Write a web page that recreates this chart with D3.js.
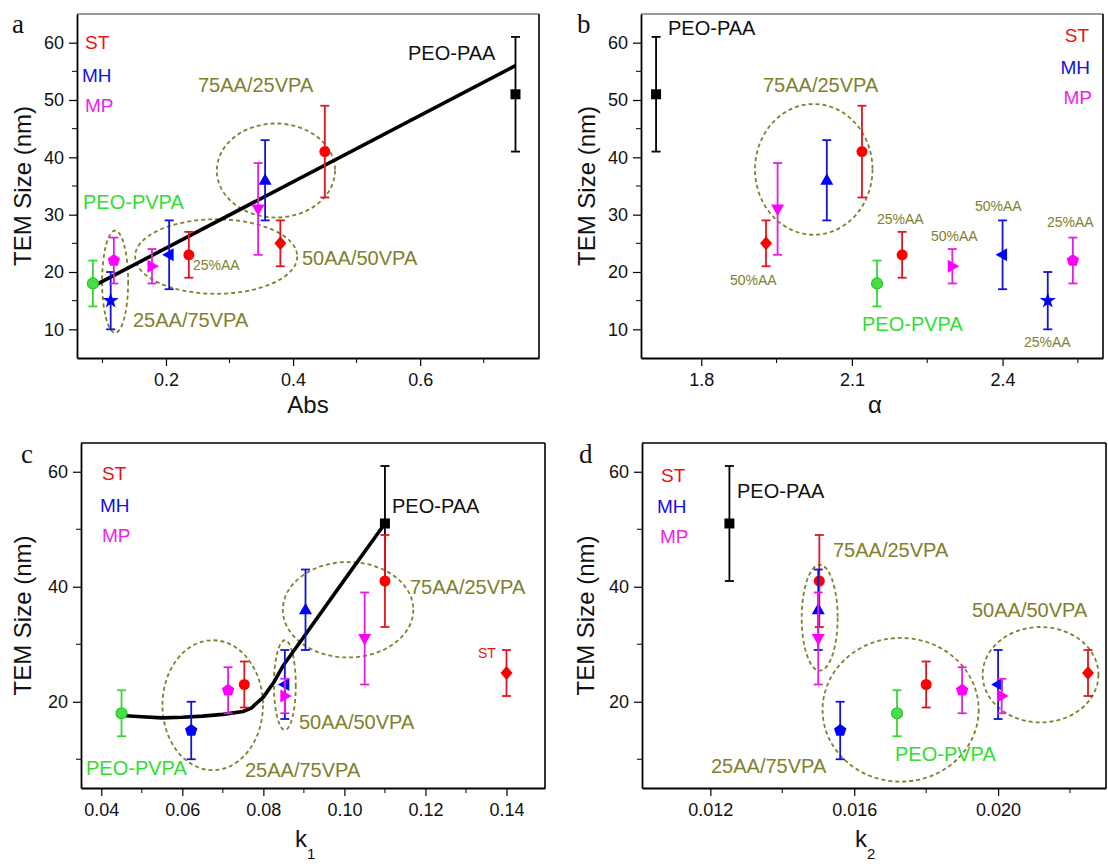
<!DOCTYPE html>
<html>
<head>
<meta charset="utf-8">
<script src="https://cdn.jsdelivr.net/npm/d3@7"></script>
<style>
  body { margin: 0; background: #fff; }
  svg { display: block; font-family: Arial, "Liberation Sans", sans-serif; }
</style>
</head>
<body>
<svg id="chart" width="1108" height="866"></svg>
<script>
// samples (same TEM size in every panel, only the x quantity changes)
var samples = ['PEO-PAA', 'PEO-PVPA', 'ST-75AA', 'MH-75AA', 'MP-75AA', 'ST-50AA', 'MH-50AA', 'MP-50AA', 'ST-25AA', 'MH-25AA', 'MP-25AA'];
var groups  = ['PEO-PAA', 'PEO-PVPA', 'ST', 'MH', 'MP', 'ST', 'MH', 'MP', 'ST', 'MH', 'MP'];
var temSize = [51, 18, 41, 36, 31, 25, 23, 21, 23, 15, 22];
var temErr  = [10, 4, 8, 7, 8, 4, 6, 3, 4, 5, 4];

// x values read for each panel
var absX   = [0.75, 0.085, 0.45, 0.356, 0.345, 0.38, 0.205, 0.178, 0.236, 0.113, 0.118];
var alphaX = [1.71, 2.15, 2.12, 2.05, 1.952, 1.929, 2.40, 2.30, 2.20, 2.49, 2.54];
var k1X    = [0.11, 0.045, 0.11, 0.0904, 0.105, 0.14, 0.0853, 0.0853, 0.0753, 0.0622, 0.0713];
var k2X    = [0.01253, 0.01719, 0.01503, 0.015, 0.015, 0.0225, 0.0200, 0.0201, 0.018, 0.01561, 0.0190];

// trend lines
var fitAbsX = [0.085, 0.75];
var fitAbsY = [17.5, 56];
var k1CurveX = [0.045, 0.05, 0.055, 0.06, 0.065, 0.07, 0.075, 0.077, 0.08, 0.0825, 0.085, 0.09, 0.1, 0.11];
var k1CurveY = [17.6, 17.4, 17.2, 17.3, 17.5, 17.8, 18.3, 18.9, 20.8, 23.3, 26.4, 31.3, 41.2, 51];

// ticks
var yMajorAB = [10, 20, 30, 40, 50, 60], yMinorAB = [15, 25, 35, 45, 55];
var yMajorCD = [20, 40, 60], yMinorCD = [10, 30, 50];
var absTicks = [0.2, 0.4, 0.6], absMinor = [0.1, 0.3, 0.5, 0.7];
var alphaTicks = [1.8, 2.1, 2.4], alphaMinor = [1.95, 2.25, 2.55];
var k1Ticks = [0.04, 0.06, 0.08, 0.10, 0.12, 0.14], k1Minor = [0.05, 0.07, 0.09, 0.11, 0.13];
var k2Ticks = [0.012, 0.016, 0.020], k2Minor = [0.014, 0.018, 0.022];

// styles
var fillCol = { 'PEO-PAA': '#000', 'PEO-PVPA': '#46e046', 'ST': '#ff0000', 'MH': '#0000ff', 'MP': '#ff00ff' };
var barCol  = { 'PEO-PAA': '#000', 'PEO-PVPA': '#35d835', 'ST': '#e0161c', 'MH': '#1414d8', 'MP': '#e21ee2' };
var shapeOf = { 'PEO-PAA': 'square', 'PEO-PVPA': 'circle', 'ST-75AA': 'circle', 'MH-75AA': 'triUp', 'MP-75AA': 'triDown',
                'ST-50AA': 'diamond', 'MH-50AA': 'triLeft', 'MP-50AA': 'triRight', 'ST-25AA': 'circle', 'MH-25AA': 'star', 'MP-25AA': 'pentagon' };
var olive = '#80802e', green = '#33dd33';

var svg = d3.select('#chart');

function poly(pts) { return 'M' + pts.map(function(p) { return p[0].toFixed(2) + ',' + p[1].toFixed(2); }).join('L') + 'Z'; }
function markerPath(shape) {
  switch (shape) {
    case 'square': return poly([[-5, -5], [5, -5], [5, 5], [-5, 5]]);
    case 'diamond': return poly([[0, -7], [6, 0], [0, 7], [-6, 0]]);
    case 'triUp': return poly([[0, -7], [6.5, 4.5], [-6.5, 4.5]]);
    case 'triDown': return poly([[0, 7], [6.5, -4.5], [-6.5, -4.5]]);
    case 'triLeft': return poly([[-7, 0], [4.5, -6.5], [4.5, 6.5]]);
    case 'triRight': return poly([[7, 0], [-4.5, -6.5], [-4.5, 6.5]]);
    case 'star': return d3.symbol(d3.symbolStar, 80)();
    case 'pentagon': return poly(d3.range(5).map(function(i) { var a = -Math.PI / 2 + i * 2 * Math.PI / 5; return [6.5 * Math.cos(a), 6.5 * Math.sin(a)]; }));
  }
  return d3.symbol(d3.symbolCircle, 95)();
}

function drawPanel(p) {
  var x = d3.scaleLinear().domain(p.xDomain).range([p.left, p.right]);
  var y = d3.scaleLinear().domain([5, 65]).range([p.bottom, p.top]);
  var g = svg.append('g');

  // frame
  g.append('line').attr('x1', p.left).attr('x2', p.right).attr('y1', p.top).attr('y2', p.top)
    .attr('stroke', p.topCol || '#000').attr('stroke-width', 1.6);
  g.append('line').attr('x1', p.right).attr('x2', p.right).attr('y1', p.top).attr('y2', p.bottom)
    .attr('stroke', '#000').attr('stroke-width', 1.6);

  // axes
  var xa = g.append('g').attr('transform', 'translate(0,' + p.bottom + ')')
    .call(d3.axisBottom(x).tickValues(p.xTicks).tickSize(8).tickSizeOuter(0).tickPadding(8).tickFormat(d3.format(p.xFmt)));
  xa.append('g').selectAll('line').data(p.xMinor).join('line')
    .attr('x1', function(d) { return x(d); }).attr('x2', function(d) { return x(d); }).attr('y1', 0).attr('y2', 5).attr('stroke', '#000');
  var ya = g.append('g').attr('transform', 'translate(' + p.left + ',0)')
    .call(d3.axisLeft(y).tickValues(p.yTicks).tickSize(8).tickSizeOuter(0).tickPadding(5));
  ya.append('g').selectAll('line').data(p.yMinor).join('line')
    .attr('y1', function(d) { return y(d); }).attr('y2', function(d) { return y(d); }).attr('x1', 0).attr('x2', -5).attr('stroke', '#000');
  [xa, ya].forEach(function(a) {
    a.select('.domain').attr('stroke-width', 1.8);
    a.selectAll('.tick line').attr('stroke-width', 1.2);
    a.selectAll('.tick text').attr('font-size', 18).attr('fill', '#111').attr('font-family', 'Arial, "Liberation Sans", sans-serif');
  });
  xa.selectAll('.tick text').attr('y', 15);

  // axis titles
  g.append('text').attr('transform', 'translate(' + (p.left - p.yTitleOff) + ',' + ((p.top + p.bottom) / 2) + ') rotate(-90)')
    .attr('text-anchor', 'middle').attr('font-size', 24).attr('fill', '#111').text('TEM Size (nm)');
  var xt = g.append('text').attr('x', p.xTitleX).attr('y', p.bottom + p.xTitleOff).attr('font-size', 24).attr('fill', '#111')
    .attr('text-anchor', p.xSub ? 'start' : 'middle').text(p.xTitle);
  if (p.xSub) xt.append('tspan').attr('font-size', 15).attr('dy', 12).text(p.xSub);

  // panel letter
  g.append('text').attr('x', p.letterX).attr('y', p.letterY).attr('font-family', '"Liberation Serif", "DejaVu Serif", serif')
    .attr('font-size', 27).attr('fill', '#111').text(p.letter);

  // dashed group ellipses
  g.selectAll('ellipse').data(p.ellipses).join('ellipse')
    .attr('cx', function(e) { return x(e.cx); }).attr('cy', function(e) { return y(e.cy); })
    .attr('rx', function(e) { return x(e.cx + e.rx) - x(e.cx); })
    .attr('ry', function(e) { return y(e.cy - e.ry) - y(e.cy); })
    .attr('fill', 'none').attr('stroke', olive).attr('stroke-width', 1.8).attr('stroke-dasharray', '4,3');

  // trend line
  if (p.lineX) {
    g.append('path').datum(d3.range(p.lineX.length))
      .attr('d', d3.line().x(function(i) { return x(p.lineX[i]); }).y(function(i) { return y(p.lineY[i]); }))
      .attr('fill', 'none').attr('stroke', '#000').attr('stroke-width', 3.6).attr('stroke-linejoin', 'round');
  }

  // points with error bars
  var idx = d3.range(samples.length);
  var pts = g.selectAll('g.pt').data(idx).join('g').attr('class', 'pt')
    .attr('transform', function(i) { return 'translate(' + x(p.xVals[i]) + ',0)'; });
  pts.append('line').attr('y1', function(i) { return y(temSize[i] - temErr[i]); }).attr('y2', function(i) { return y(temSize[i] + temErr[i]); })
    .attr('stroke', function(i) { return barCol[groups[i]]; }).attr('stroke-width', 1.8);
  [-1, 1].forEach(function(s) {
    pts.append('line').attr('x1', -4.5).attr('x2', 4.5)
      .attr('y1', function(i) { return y(temSize[i] + s * temErr[i]); }).attr('y2', function(i) { return y(temSize[i] + s * temErr[i]); })
      .attr('stroke', function(i) { return barCol[groups[i]]; }).attr('stroke-width', 1.8);
  });
  pts.append('path')
    .attr('transform', function(i) { return 'translate(0,' + y(temSize[i]) + ')'; })
    .attr('d', function(i) { return markerPath((p.shapes && p.shapes[samples[i]]) || shapeOf[samples[i]]); })
    .attr('fill', function(i) { return fillCol[groups[i]]; })
    .attr('stroke', function(i) { return groups[i] === 'PEO-PVPA' ? '#2cc02c' : 'none'; }).attr('stroke-width', 1.2);

  // text annotations
  g.selectAll('text.lab').data(p.labels).join('text').attr('class', 'lab')
    .attr('x', function(d) { return d[1]; }).attr('y', function(d) { return d[2]; })
    .attr('fill', function(d) { return d[3]; }).attr('font-size', function(d) { return d[4] || 20; })
    .attr('text-anchor', function(d) { return d[5] || 'start'; })
    .text(function(d) { return d[0]; });
}

var R = '#ee1111', B = '#1111dd', M = '#ee22ee', K = '#111';

drawPanel({
  letter: 'a', letterX: 12, letterY: 33,
  left: 77, right: 539, top: 14, bottom: 358, topCol: '#777',
  xDomain: [0.06, 0.787], xTicks: absTicks, xMinor: absMinor, xFmt: '.1f',
  yTicks: yMajorAB, yMinor: yMinorAB, yTitleOff: 46,
  xTitle: 'Abs', xTitleX: 308, xTitleOff: 55,
  xVals: absX, lineX: fitAbsX, lineY: fitAbsY,
  ellipses: [{ cx: 0.12, cy: 18.3, rx: 0.0205, ry: 8.9 }, { cx: 0.279, cy: 22.7, rx: 0.1276, ry: 6.5 }, { cx: 0.373, cy: 37.7, rx: 0.093, ry: 8.2 }],
  labels: [['ST', 85, 49, R, 19], ['MH', 82, 82, B, 19], ['MP', 85, 112, M, 19],
           ['75AA/25VPA', 198, 92, olive], ['PEO-PAA', 408, 60, K], ['PEO-PVPA', 83, 209, green],
           ['25%AA', 193, 270, olive, 14], ['25AA/75VPA', 133, 327, olive], ['50AA/50VPA', 302, 265, olive]]
});

drawPanel({
  letter: 'b', letterX: 577, letterY: 33,
  left: 641, right: 1103, top: 14, bottom: 358, topCol: '#777',
  xDomain: [1.68, 2.6], xTicks: alphaTicks, xMinor: alphaMinor, xFmt: '.1f',
  yTicks: yMajorAB, yMinor: yMinorAB, yTitleOff: 46,
  xTitle: 'α', xTitleX: 875, xTitleOff: 55,
  xVals: alphaX,
  ellipses: [{ cx: 2.024, cy: 37.9, rx: 0.117, ry: 11.4 }],
  labels: [['PEO-PAA', 668, 35, K], ['ST', 1089, 42, R, 19, 'end'], ['MH', 1090, 74, B, 19, 'end'], ['MP', 1092, 104, M, 19, 'end'],
           ['75AA/25VPA', 763, 92, olive], ['50%AA', 730, 285, olive, 14], ['25%AA', 877, 224, olive, 14],
           ['50%AA', 931, 241, olive, 14], ['50%AA', 975, 211, olive, 14], ['25%AA', 1047, 227, olive, 14],
           ['25%AA', 1024, 347, olive, 14], ['PEO-PVPA', 862, 331, green]]
});

drawPanel({
  letter: 'c', letterX: 21, letterY: 463,
  left: 81, right: 545, top: 443, bottom: 788,
  xDomain: [0.035, 0.1495], xTicks: k1Ticks, xMinor: k1Minor, xFmt: '.2f',
  yTicks: yMajorCD, yMinor: yMinorCD, yTitleOff: 50,
  xTitle: 'k', xSub: '1', xTitleX: 295, xTitleOff: 59,
  xVals: k1X, lineX: k1CurveX, lineY: k1CurveY,
  shapes: { 'MH-25AA': 'pentagon' },
  ellipses: [{ cx: 0.0675, cy: 19.4, rx: 0.0124, ry: 11.3 }, { cx: 0.0853, cy: 22.9, rx: 0.0027, ry: 7.8 }, { cx: 0.1009, cy: 36, rx: 0.0161, ry: 8.3 }],
  labels: [['ST', 102, 480, R, 19], ['MH', 100, 512, B, 19], ['MP', 102, 542, M, 19],
           ['PEO-PVPA', 86, 775, green], ['25AA/75VPA', 245, 777, olive], ['50AA/50VPA', 299, 729, olive],
           ['75AA/25VPA', 410, 594, olive], ['PEO-PAA', 392, 513, K], ['ST', 478, 658, R, 14]]
});

drawPanel({
  letter: 'd', letterX: 579, letterY: 463,
  left: 642, right: 1106, top: 443, bottom: 788,
  xDomain: [0.0101, 0.023], xTicks: k2Ticks, xMinor: k2Minor, xFmt: '.3f',
  yTicks: yMajorCD, yMinor: yMinorCD, yTitleOff: 48,
  xTitle: 'k', xSub: '2', xTitleX: 855, xTitleOff: 59,
  xVals: k2X,
  shapes: { 'MH-25AA': 'pentagon' },
  ellipses: [{ cx: 0.01504, cy: 34.6, rx: 0.0005, ry: 9.2 }, { cx: 0.01729, cy: 18.6, rx: 0.00217, ry: 12.5 }, { cx: 0.02118, cy: 24.7, rx: 0.00161, ry: 8.3 }],
  labels: [['ST', 661, 482, R, 19], ['MH', 657, 513, B, 19], ['MP', 660, 543, M, 19],
           ['PEO-PAA', 737, 498, K], ['75AA/25VPA', 833, 557, olive], ['50AA/50VPA', 972, 617, olive],
           ['25AA/75VPA', 711, 773, olive], ['PEO-PVPA', 895, 761, green]]
});
</script>
</body>
</html>
